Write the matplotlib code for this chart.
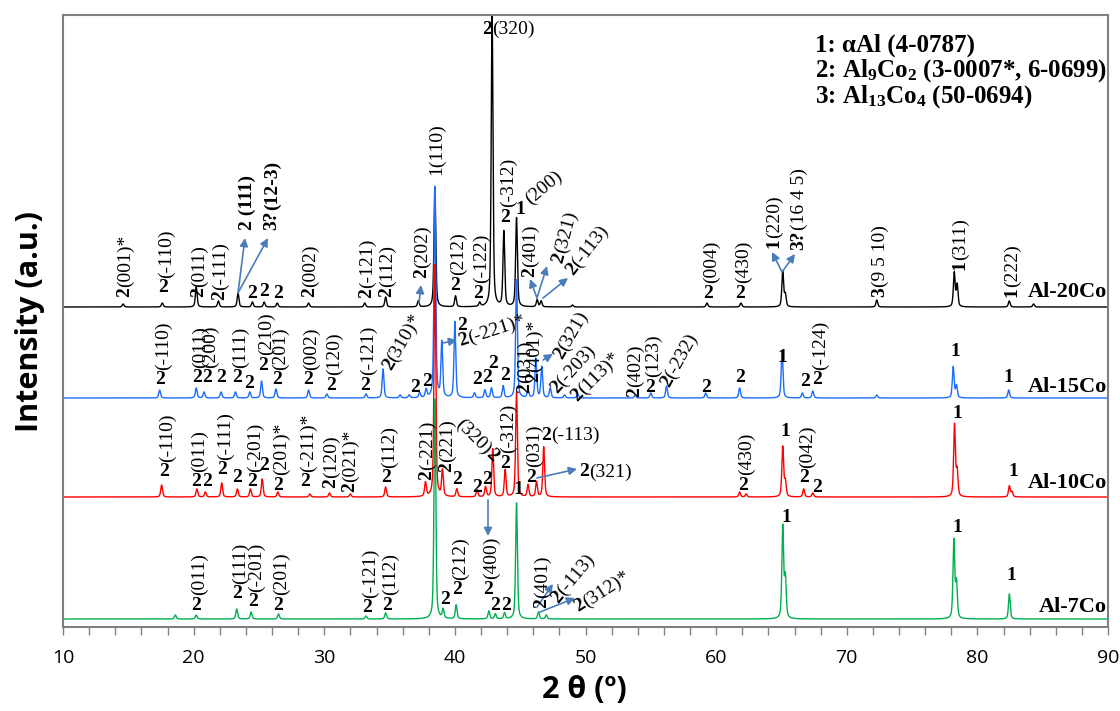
import numpy as np
import matplotlib
matplotlib.use('Agg')
import matplotlib.pyplot as plt
from matplotlib.transforms import Affine2D
from matplotlib.ticker import MultipleLocator

plt.rcParams['font.family'] = ['Liberation Serif', 'DejaVu Serif']
plt.rcParams['mathtext.fontset'] = 'custom'
plt.rcParams['mathtext.rm'] = 'Liberation Serif'
plt.rcParams['mathtext.bf'] = 'Liberation Serif:bold'

# peak lists: 2theta (deg), height above baseline
pos_20 = [14.6, 17.6, 20.2, 21.9, 23.4, 24.5, 25.4, 26.4, 28.8, 33.1, 34.7, 37.2,
          38.47, 40.05, 41.9, 42.85, 43.75, 44.72, 46.3, 46.6, 49.0, 59.3, 61.9,
          65.1, 65.3, 72.3, 78.23, 78.45, 82.44, 84.3]
h_20 = [3, 4, 20, 6, 14, 5, 5, 4, 4, 4, 10, 6,
        120, 11, 4, 292, 75, 89, 7, 6, 2, 4, 4,
        35, 12, 7, 34, 22, 6, 3]

pos_15 = [17.4, 20.2, 20.8, 22.1, 23.2, 24.3, 25.2, 26.3, 28.8, 30.2, 33.2, 34.5,
          35.8, 36.5, 37.3, 37.8, 38.47, 39.0, 40.0, 41.5, 42.3, 42.8, 43.7, 44.72,
          45.6, 46.2, 46.65, 47.3, 48.4, 49.4, 53.8, 55.0, 56.2, 59.2, 61.8,
          65.05, 66.6, 67.4, 72.3, 78.15, 78.4, 82.4]
h_15 = [8, 10, 6, 6, 6, 6, 17, 9, 8, 4, 4, 29,
        3, 3, 5, 8, 211, 55, 76, 5, 8, 10, 12, 118,
        8, 39, 31, 10, 3, 4, 3, 5, 12, 5, 10,
        47, 5, 7, 3, 31, 12, 8]

pos_10 = [17.55, 20.25, 20.9, 22.15, 23.35, 24.35, 25.25, 26.45, 28.9, 30.4, 32.0,
          34.7, 37.75, 38.47, 39.05, 40.15, 41.7, 42.35, 42.9, 43.85, 44.72, 45.6,
          46.25, 46.8, 61.8, 62.3, 65.1, 65.3, 66.7, 67.4, 78.25, 78.45, 82.45, 82.65]
h_10 = [12, 8, 5, 14, 8, 8, 18, 5, 3, 4, 3,
        10, 14, 232, 26, 8, 7, 10, 48, 27, 104, 12,
        15, 50, 5, 3, 50, 15, 8, 4, 72, 25, 11, 5]

pos_7 = [18.6, 20.2, 23.3, 24.4, 26.5, 33.2, 34.7, 38.47, 39.1, 40.1, 42.6, 43.1,
         43.8, 44.72, 46.4, 47.0, 65.1, 65.3, 78.2, 78.4, 82.45]
h_7 = [4, 4, 10, 7, 5, 3, 6, 220, 9, 14, 8, 5,
       6, 116, 7, 4, 92, 40, 78, 35, 25]

samples = ['Al-20Co', 'Al-15Co', 'Al-10Co', 'Al-7Co']
colors = ['#000000', '#1a6dff', '#ff0000', '#00b050']
baselines = [320, 229, 130, 8]

legend_lines = ['1: \u03b1Al (4-0787)',
                '2: $\\mathbf{Al_{9}Co_{2}}$ (3-0007*, 6-0699)',
                '3: $\\mathbf{Al_{13}Co_{4}}$ (50-0694)']

two_theta = np.arange(10, 90.001, 0.01)


def pattern(pos, hgt, base, w=0.16):
    y = np.full_like(two_theta, base, dtype=float)
    for p, h in zip(pos, hgt):
        d = (two_theta - p) / (w / 2)
        y += h * (0.5 / (1 + d ** 2) + 0.5 * np.exp(-np.log(2) * d ** 2))
    return y


W, H = 1120, 711
fig = plt.figure(figsize=(W / 100, H / 100), dpi=100)
# picture pixel coordinates (origin top left) for the annotations
px = Affine2D().scale(1 / W, -1 / H).translate(0, 1) + fig.transFigure

ax = fig.add_axes([63 / W, (H - 627) / H, 1045 / W, 612 / H])
series = [(pos_20, h_20), (pos_15, h_15), (pos_10, h_10), (pos_7, h_7)]
for (p, h), c, b in zip(series, colors, baselines):
    ax.plot(two_theta, pattern(p, h, b), color=c, lw=1.0)

ax.set_xlim(10, 90)
ax.set_ylim(0, 612)
ax.set_yticks([])
ax.xaxis.set_major_locator(MultipleLocator(10))
ax.xaxis.set_minor_locator(MultipleLocator(2))
ax.tick_params(axis='x', which='both', direction='out', length=6, width=1,
               color='#808080', pad=10)
for lbl in ax.get_xticklabels():
    lbl.set_fontfamily('Open Sans')
    lbl.set_fontsize(14)
for s in ax.spines.values():
    s.set_color('#808080')
    s.set_linewidth(1.5)

fig.text(30, 321, 'Intensity (a.u.)', transform=px, rotation=90, ha='center',
         va='center', family='Open Sans', fontweight='bold', fontsize=22)
fig.text(584, 690, '2 \u03b8 (\u00ba)', transform=px, ha='center', va='center',
         family='Open Sans', fontweight='bold', fontsize=22)

for i, s in enumerate(legend_lines):
    fig.text(815, 45 + i * 26, s, transform=px, ha='left', va='center',
             fontsize=18, fontweight='bold')

for s, y in zip(samples, [292, 387, 483, 607]):
    fig.text(1107, y, s, transform=px, ha='right', va='center', fontsize=16,
             fontweight='bold')

renderer = fig.canvas.get_renderer()
NUM = dict(fontsize=14, fontweight='bold')
IDX = dict(fontsize=14)
IDXB = dict(fontsize=14, fontweight='bold')


def width_of(s, kw):
    t = fig.text(0, 0, s, **kw)
    w = t.get_window_extent(renderer).width
    t.remove()
    return w


def tag(x, y, num, idx='', rot=90, bold_idx=False, idx_first=False):
    # phase number and indices written one after the other along angle rot
    parts = [(num, NUM), (idx, IDXB if bold_idx else IDX)]
    if idx_first:
        parts = parts[::-1]
    a = np.radians(rot)
    for s, kw in parts:
        if not s:
            continue
        fig.text(x, y, s, transform=px, rotation=rot, rotation_mode='anchor',
                 ha='left', va='center_baseline', **kw)
        w = width_of(s, kw)
        x += w * np.cos(a)
        y -= w * np.sin(a)


def up(x, y, num, idx=''):
    # upright number, indices standing above it
    fig.text(x, y, num, transform=px, ha='center', va='center', **NUM)
    if idx:
        tag(x + 1, y - 10, '', idx)


def arrow(x0, y0, x1, y1):
    ax.annotate('', xy=(x1, y1), xytext=(x0, y0), xycoords=px, textcoords=px,
                arrowprops=dict(arrowstyle='-|>', color='#4a7ebb', lw=1.2,
                                mutation_scale=12, shrinkA=0, shrinkB=0))


# Al-20Co
tag(123, 297, '2', '(001)*')
up(163, 288, '2', '(-110)')
tag(197, 297, '2', '(011)')
tag(218, 300, '2', '(-111)')
tag(245, 230, '2', ' (111)', bold_idx=True)
tag(270, 230, '3?', '(12-3)', bold_idx=True)
arrow(238, 293, 245, 238)
arrow(238, 293, 268, 238)
up(252, 293, '2')
up(264, 292, '2')
up(278, 293, '2')
tag(308, 297, '2', '(002)')
tag(365, 298, '2', '(-121)')
tag(385, 297, '2', '(112)')
tag(420, 278, '2', '(202)')
arrow(419, 303, 421, 285)
tag(435, 175, '', '1(110)')
up(455, 285, '2', '(212)')
up(478, 293, '2', '(-122)')
tag(482, 27, '2', '(320)', rot=0)
up(505, 217, '2', '(-312)')
up(520, 210, '1')
tag(526, 200, '', '(200)', rot=40)
tag(528, 277, '2', '(401)')
tag(556, 262, '2', '(321)', rot=75)
tag(568, 272, '2', '(-113)', rot=52)
arrow(537, 298, 530, 279)
arrow(537, 298, 547, 266)
arrow(543, 298, 568, 278)
up(708, 293, '2', '(004)')
up(740, 293, '2', '(430)')
tag(772, 248, '1', '(220)')
tag(797, 250, '3?', '(16 4 5)')
arrow(782, 272, 772, 252)
arrow(782, 272, 795, 254)
tag(878, 297, '3', '(9 5 10)')
tag(958, 270, '1', '(311)')
tag(1010, 297, '1', '(222)')

# Al-15Co
up(160, 380, '2', '(-110)')
up(197, 378, '2', '(011)')
up(207, 378, '2', '(200)')
up(221, 378, '2')
up(237, 378, '2', '(111)')
up(249, 383, '2')
up(263, 365, '2', '(210)')
up(277, 380, '2', '(201)')
up(308, 380, '2', '(002)')
up(331, 385, '2', '(120)')
up(365, 385, '2', '(-121)')
tag(385, 368, '2', '(310)*', rot=60)
up(415, 387, '2')
up(427, 382, '2')
up(462, 325, '2')
tag(458, 340, '2', '(-221)*', rot=18)
arrow(443, 343, 457, 340)
up(477, 380, '2')
up(487, 378, '2')
up(493, 363, '2')
up(505, 375, '2')
tag(523, 393, '2', '(031)')
tag(532, 382, '2', '(401)*')
tag(556, 357, '2', '(321)', rot=60)
arrow(543, 360, 553, 354)
tag(552, 390, '2', '(-203)', rot=48)
tag(573, 397, '2', '(113)*', rot=45)
tag(633, 397, '2', '(402)')
up(650, 387, '2', '(123)')
tag(663, 385, '2', '(-232)', rot=61)
up(706, 387, '2')
up(740, 378, '2')
up(782, 358, '1')
up(805, 382, '2')
up(817, 380, '2', '(-124)')
up(955, 352, '1')
up(1008, 378, '1')

# Al-10Co
up(164, 472, '2', '(-110)')
up(196, 482, '2', '(011)')
up(207, 482, '2')
up(222, 470, '2', '(-111)')
up(237, 478, '2')
up(252, 482, '2', '(-201)')
up(264, 465, '2')
up(278, 485, '2', '(201)*')
up(305, 482, '2', '(-211)*')
tag(329, 488, '2', '(120)')
tag(348, 492, '2', '(021)*')
up(386, 478, '2', '(112)')
tag(425, 480, '2', '(-221)')
tag(445, 472, '2', '(221)')
up(457, 480, '2')
tag(460, 420, '2', '(320)', rot=-45, idx_first=True)
up(477, 487, '2')
up(487, 480, '2')
up(505, 463, '2', '(-312)')
up(531, 477, '2', '(031)')
tag(541, 433, '2', '(-113)', rot=0)
tag(579, 470, '2', '(321)', rot=0)
arrow(537, 478, 577, 469)
up(743, 485, '2', '(430)')
up(785, 432, '1')
up(804, 478, '2', '(042)')
up(817, 487, '2')
up(957, 413, '1')
up(1013, 472, '1')

# Al-7Co
up(518, 490, '1')
up(196, 605, '2', '(011)')
up(237, 594, '2', '(111)')
up(253, 602, '2', '(-201)')
up(278, 605, '2', '(201)')
up(367, 608, '2', '(-121)')
up(387, 605, '2', '(112)')
up(445, 600, '2')
up(457, 590, '2', '(212)')
up(488, 589, '2', '(400)')
arrow(488, 500, 488, 536)
up(495, 606, '2')
up(506, 606, '2')
tag(540, 608, '2', '(401)')
tag(553, 600, '2', '(-113)', rot=50)
tag(575, 607, '2', '(312)*', rot=33)
arrow(537, 607, 553, 584)
arrow(540, 612, 575, 598)
up(786, 517, '1')
up(957, 528, '1')
up(1011, 575, '1')

fig.savefig('out.png', dpi=100)
